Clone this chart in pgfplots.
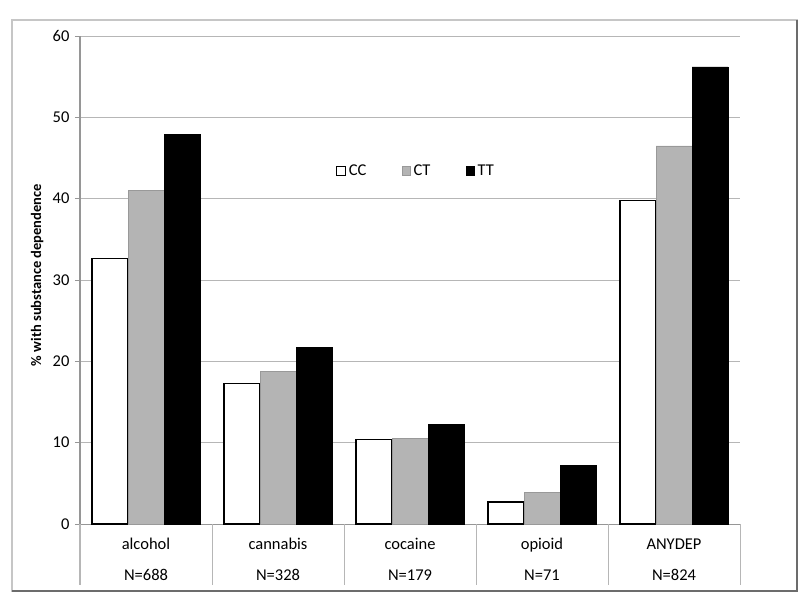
\documentclass[border=0pt]{standalone}
\usepackage{pgfplots}
\pgfplotsset{compat=1.18}
\usepackage{fontspec}
\setmainfont{Carlito}
\definecolor{gridgray}{RGB}{182,182,182}
\definecolor{axisgray}{RGB}{150,150,150}
\definecolor{ctgray}{RGB}{180,180,180}

\begin{document}
\begin{tikzpicture}
\path (0pt,0pt) rectangle (800pt,611pt);
\draw[gray!45, line width=1.2pt] (12pt,20pt) rectangle (797pt,591pt);
\draw[gray!85!black, line width=1.5pt] (12pt,20pt) -- (797pt,20pt) -- (797pt,591pt);
\begin{axis}[
    at={(80pt,87pt)}, anchor=south west,
    scale only axis,
    width=660pt, height=488pt,
    xmin=-0.5, xmax=4.5,
    ymin=0, ymax=60,
    clip=false,
    axis x line=bottom, axis y line=left,
    axis line style={-, draw=axisgray, line width=1pt},
    ybar=0pt, bar width=36pt,
    xtick={0,1,2,3,4},
    xticklabels={{alcohol\\[12pt]N=688},{cannabis\\[12pt]N=328},{cocaine\\[12pt]N=179},{opioid\\[12pt]N=71},{ANYDEP\\[12pt]N=824}},
    x tick label style={align=center, font=\fontsize{16.5}{19}\selectfont, yshift=-6pt},
    major x tick style={draw=none},
    ytick={0,10,...,60},
    y tick label style={font=\fontsize{16.5}{19}\selectfont, xshift=-2pt},
    /pgf/number format/assume math mode=true,
    tick align=outside, major tick length=5pt,
    major y tick style={draw=axisgray, line width=1pt},
    ymajorgrids, grid style={draw=gridgray, line width=1pt},
    ylabel={\textbf{\% with substance dependence}},
    ylabel style={at={(axis description cs:-0.065,0.51)}, anchor=center, font=\fontsize{14.5}{17}\selectfont},
    legend columns=3,
    legend style={draw=none, fill=none, at={(0.51,0.723)}, anchor=center,
        font=\fontsize{16.5}{19}\selectfont,
        nodes={inner xsep=3pt},
        /tikz/every even column/.append style={column sep=32pt}},
    legend image code/.code={\draw[#1] (0pt,-4pt) rectangle (8.5pt,4.5pt);},
]
\addplot[draw=black, fill=white, line width=1.2pt] coordinates {
    (0,32.6) (1,17.3) (2,10.4) (3,2.7) (4,39.8)};
\addplot[draw=ctgray!85!black, fill=ctgray, line width=0.6pt] coordinates {
    (0,41.0) (1,18.8) (2,10.5) (3,3.9) (4,46.5)};
\addplot[draw=black, fill=black, line width=0.6pt] coordinates {
    (0,47.9) (1,21.7) (2,12.2) (3,7.2) (4,56.2)};
\legend{CC,CT,TT}
\pgfplotsinvokeforeach{-0.5,0.5,1.5,2.5,3.5,4.5}{
    \draw[draw=gridgray, line width=1pt] (axis cs:#1,0) -- ++(0pt,-61pt);
}
\end{axis}
\end{tikzpicture}
\end{document}
